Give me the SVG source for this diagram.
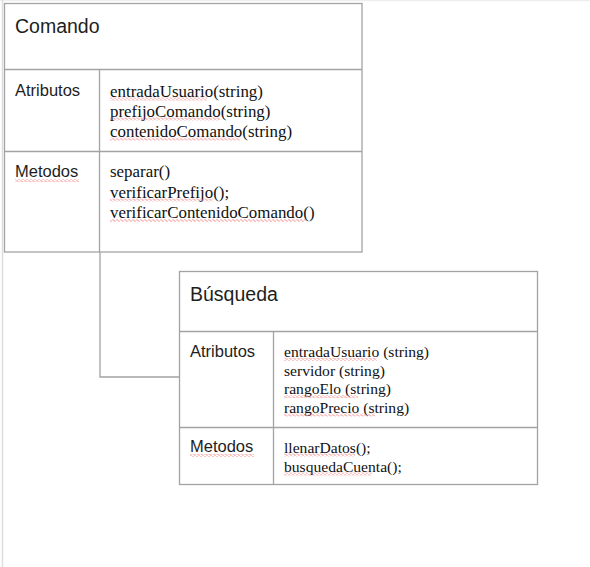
<svg xmlns="http://www.w3.org/2000/svg" width="590" height="567" viewBox="0 0 590 567">
<style>
.bd{fill:none;stroke:#a3a3a3;stroke-width:1.3}
.ttl{font-family:"Liberation Sans",Arial,sans-serif;font-size:19.5px;fill:#1e1e1e}
.lbl{font-family:"Liberation Sans",Arial,sans-serif;font-size:16.5px;fill:#1e1e1e}
.mb{font-family:"Liberation Serif","Times New Roman",serif;font-size:16.9px;fill:#111}
.mb2{font-family:"Liberation Serif","Times New Roman",serif;font-size:15.6px;fill:#111}
.sq{fill:url(#sq)}
</style>
<defs>
<pattern id="sq" width="4" height="3" patternUnits="userSpaceOnUse">
<path d="M0 1.5 L1 0.5 L3 2.5 L4 1.5" fill="none" stroke="#e66" stroke-width="0.8"/>
</pattern>
</defs>
<rect width="590" height="567" fill="#fff"/>
<line x1="0" y1="0.5" x2="590" y2="0.5" stroke="#eeeeee" stroke-width="1.5"/>
<line x1="2.5" y1="0" x2="2.5" y2="567" stroke="#dddddd" stroke-width="1.5"/>

<g id="connectors">
<path class="bd" d="M100 252 V377 H179"/>
</g>

<g id="comando">
<rect class="bd" x="4.5" y="3.5" width="357.5" height="248.5"/>
<line class="bd" x1="4.5" y1="69.5" x2="362" y2="69.5"/>
<line class="bd" x1="4.5" y1="151.5" x2="362" y2="151.5"/>
<line class="bd" x1="99.5" y1="69.5" x2="99.5" y2="252"/>
<text class="ttl" x="15" y="33">Comando</text>
<text class="lbl" x="15" y="96">Atributos</text>
<text class="lbl" x="15" y="177">Metodos</text>
<rect class="sq" x="15" y="179" width="64" height="3"/>
<text class="mb" x="110" y="96.5">entradaUsuario(string)</text>
<text class="mb" x="110" y="116.5">prefijoComando(string)</text>
<text class="mb" x="110" y="136.5">contenidoComando(string)</text>
<rect class="sq" x="110" y="97.5" width="97" height="3"/>
<rect class="sq" x="110" y="117.5" width="110" height="3"/>
<rect class="sq" x="110" y="137.5" width="130" height="3"/>
<text class="mb" x="110" y="177">separar()</text>
<text class="mb" x="110" y="197.5">verificarPrefijo();</text>
<text class="mb" x="110" y="218">verificarContenidoComando()</text>
<rect class="sq" x="110" y="198.5" width="103" height="3"/>
<rect class="sq" x="110" y="219" width="196" height="3"/>
</g>

<g id="busqueda">
<rect class="bd" x="179.5" y="271.5" width="358" height="213"/>
<line class="bd" x1="179.5" y1="331.5" x2="537.5" y2="331.5"/>
<line class="bd" x1="179.5" y1="427.5" x2="537.5" y2="427.5"/>
<line class="bd" x1="273.5" y1="331.5" x2="273.5" y2="484.5"/>
<text class="ttl" x="190" y="301">Búsqueda</text>
<text class="lbl" x="190" y="357">Atributos</text>
<text class="lbl" x="190" y="452">Metodos</text>
<rect class="sq" x="190" y="454" width="64" height="3"/>
<text class="mb2" x="284" y="357">entradaUsuario (string)</text>
<text class="mb2" x="284" y="375.5">servidor (string)</text>
<text class="mb2" x="284" y="394">rangoElo (string)</text>
<text class="mb2" x="284" y="412.5">rangoPrecio (string)</text>
<rect class="sq" x="284" y="358" width="93" height="3"/>
<rect class="sq" x="284" y="395" width="74" height="3"/>
<rect class="sq" x="284" y="413.5" width="91" height="3"/>
<text class="mb2" x="284" y="452.5">llenarDatos();</text>
<text class="mb2" x="284" y="471.5">busquedaCuenta();</text>
<rect class="sq" x="284" y="453.5" width="71" height="3"/>
<rect class="sq" x="284" y="472.5" width="88" height="3"/>
</g>
</svg>
